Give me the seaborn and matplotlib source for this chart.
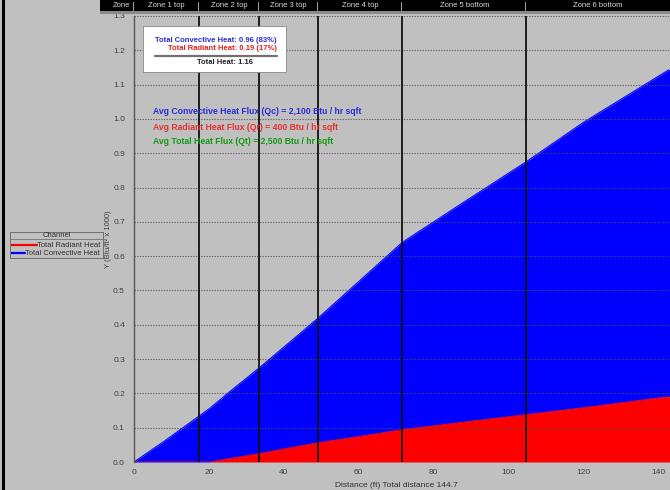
import matplotlib
matplotlib.use("Agg")
import matplotlib.pyplot as plt
from matplotlib.patches import Rectangle
from matplotlib.lines import Line2D
import numpy as np
import pandas as pd
import seaborn as sns

# Cumulative heat along the run (Btu/ft^2 x 1000)
distance_ft = [0, 8, 17.4, 20.3, 25, 33.4, 41, 49.2, 60, 71.6, 88, 104.7, 120, 144.7]
radiant_heat = [0, 0, 0, 0, 0.009, 0.024, 0.040, 0.056, 0.074, 0.094, 0.116, 0.138, 0.158, 0.193]
convective_heat = [0, 0.060, 0.134, 0.157, 0.191, 0.250, 0.304, 0.364, 0.452, 0.546, 0.641, 0.737, 0.832, 0.963]

# Zone boundaries (ft) and names
zone_edges = [17.4, 33.4, 49.2, 71.6, 104.7]
zone_names = ["Zone 1 top", "Zone 2 top", "Zone 3 top", "Zone 4 top", "Zone 5 bottom", "Zone 6 bottom"]

total_distance = 144.7
avg_flux = {"Qc": 2100, "Qr": 400, "Qt": 2500}

x_ticks = [0, 20, 40, 60, 80, 100, 120, 140]
y_ticks = [round(0.1 * i, 1) for i in range(14)]

BG = "#C0C0C0"
BLUE = "#0000FF"
RED = "#FF0000"
GREEN = "#129A12"
FONT = "Liberation Sans"

sns.set_theme(style="white")
plt.rcParams["font.family"] = [FONT, "DejaVu Sans"]

df = pd.DataFrame({
    "distance": distance_ft,
    "radiant": radiant_heat,
    "convective": convective_heat,
})
df["total"] = df["radiant"] + df["convective"]

W, H = 670, 490
fig = plt.figure(figsize=(W / 100, H / 100), dpi=100, facecolor=BG)

x0_px, x1_px, ytop_px, ybot_px = 134, 669, 16, 462
px_per_ft = 3.746
ax = fig.add_axes([x0_px / W, (H - ybot_px) / H, (x1_px - x0_px) / W, (ybot_px - ytop_px) / H])
ax.set_facecolor(BG)

# Stacked areas: radiant at the bottom, convective on top of it
ax.fill_between(df["distance"], 0, df["radiant"], color=RED, lw=0, zorder=1)
ax.fill_between(df["distance"], df["radiant"], df["total"], color=BLUE, lw=0, zorder=1)
sns.lineplot(data=df, x="distance", y="total", ax=ax, color=BLUE, lw=0.8, zorder=2, legend=False)
sns.lineplot(data=df, x="distance", y="radiant", ax=ax, color=RED, lw=0.8, zorder=2, legend=False)

ax.set_xlim(0, (x1_px - x0_px) / px_per_ft)
ax.set_ylim(0, 1.3)
ax.set_xticks(x_ticks)
ax.set_yticks(y_ticks)
ax.set_xticklabels([str(v) for v in x_ticks])
ax.set_yticklabels([f"{v:.1f}" for v in y_ticks])

# Dotted horizontal grid
for v in y_ticks[1:]:
    ax.axhline(v, color="#505050", lw=0.8, ls=(0, (1.2, 1.2)), alpha=0.8, zorder=3)

# Zone boundary lines
for xe in zone_edges:
    ax.axvline(xe, color="#111111", lw=1.3, zorder=4)

for s in ["top", "right"]:
    ax.spines[s].set_visible(False)
ax.spines["left"].set_color("#555555")
ax.spines["left"].set_linewidth(1.0)
ax.spines["bottom"].set_visible(False)
ax.spines["left"].set_zorder(5)

ax.tick_params(axis="both", direction="out", colors="#505050", labelcolor="#404040",
               labelsize=6, length=5, width=0.8, pad=1.5)
ax.tick_params(axis="x", length=3.5)
ax.set_xlabel(f"Distance (ft) Total distance {total_distance}", fontsize=6, color="#303030", labelpad=2)
ax.set_ylabel("Y (Btu/ft² x 1000)", fontsize=5.5, color="#404040", labelpad=1)
ax.xaxis.set_label_coords(0.49, -0.045)

# Summary box
conv_end = df["convective"].iloc[-1]
rad_end = df["radiant"].iloc[-1]
tot_end = conv_end + rad_end
def fx(px):
    return px / W
def fy(py):
    return 1 - py / H

fig.patches.append(Rectangle((fx(143), fy(72)), fx(286) - fx(143), fy(26) - fy(72),
                             transform=fig.transFigure, facecolor="white", edgecolor="#888888",
                             lw=0.6, zorder=6))
fig.text(fx(277), fy(40), f"Total Convective Heat: {conv_end:.2f} ({conv_end / tot_end:.0%})",
         ha="right", va="center", color="#2B2BD0", fontsize=5.5, fontweight="bold", zorder=7)
fig.text(fx(277), fy(49), f"Total Radiant Heat: {rad_end:.2f} ({rad_end / tot_end:.0%})",
         ha="right", va="center", color="#E02020", fontsize=5.5, fontweight="bold", zorder=7)
fig.lines.append(Line2D([fx(155), fx(277)], [fy(56), fy(56)], transform=fig.transFigure,
                        color="#707070", lw=1.6, zorder=7))
fig.text(fx(225), fy(63), f"Total Heat: {tot_end:.2f}", ha="center", va="center",
         color="#202020", fontsize=5.5, fontweight="bold", zorder=7)

# Average flux notes
fig.text(fx(153), fy(111), f"Avg Convective Heat Flux (Qc) = {avg_flux['Qc']:,} Btu / hr sqft",
         ha="left", va="center", color="#2B2BD8", fontsize=6.2, fontweight="bold", zorder=7)
fig.text(fx(153), fy(127), f"Avg Radiant Heat Flux (Qr) = {avg_flux['Qr']:,} Btu / hr sqft",
         ha="left", va="center", color="#E83030", fontsize=6.2, fontweight="bold", zorder=7)
fig.text(fx(153), fy(141), f"Avg Total Heat Flux (Qt) = {avg_flux['Qt']:,} Btu / hr sqft",
         ha="left", va="center", color=GREEN, fontsize=6.2, fontweight="bold", zorder=7)

# Header strip with zone names
fig.patches.append(Rectangle((fx(100), fy(11)), 1 - fx(100), fy(0) - fy(11),
                             transform=fig.transFigure, facecolor="black", lw=0, zorder=8))
fig.patches.append(Rectangle((fx(100), fy(14)), 1 - fx(100), fy(11.5) - fy(14),
                             transform=fig.transFigure, facecolor="#8A8A8A", lw=0, zorder=8))
fig.text(fx(121), fy(5.5), "Zone", ha="center", va="center", color="#D8D8D8", fontsize=5.5, zorder=9)
bounds_px = [x0_px] + [x0_px + e * px_per_ft for e in zone_edges] + [W]
for i, name in enumerate(zone_names):
    cx = (bounds_px[i] + bounds_px[i + 1]) / 2
    fig.text(fx(cx), fy(5.5), name, ha="center", va="center", color="#D8D8D8", fontsize=5.5, zorder=9)
for bx in bounds_px[:-1]:
    fig.lines.append(Line2D([fx(bx - 1), fx(bx - 1)], [fy(2), fy(10)], transform=fig.transFigure,
                            color="#9A9A9A", lw=0.8, zorder=9))

# Channel legend, clipped to its frame
lax = fig.add_axes([fx(10), fy(258), fx(103) - fx(10), fy(232) - fy(258)])
lax.set_xlim(0, 93)
lax.set_ylim(26, 0)
lax.set_facecolor(BG)
for s in lax.spines.values():
    s.set_color("#707070")
    s.set_linewidth(0.7)
lax.set_xticks([])
lax.set_yticks([])
lax.axhline(7, color="#707070", lw=0.6)
lax.text(46.5, 3.5, "Channel", ha="center", va="center", fontsize=5.5, color="#303030", clip_on=True)
lax.plot([0, 27], [13, 13], color=RED, lw=1.6, clip_on=True)
lax.text(27, 13, "Total Radiant Heat", ha="left", va="center", fontsize=5.5, color="#303030", clip_on=True)
lax.plot([0, 15], [21, 21], color=BLUE, lw=1.6, clip_on=True)
lax.text(15, 21, "Total Convective Heat", ha="left", va="center", fontsize=5.5, color="#303030", clip_on=True)

# Outer frame on the left edge
fig.lines.append(Line2D([fx(2.5), fx(2.5)], [0, 1], transform=fig.transFigure,
                        color="black", lw=2.2, zorder=10))

fig.savefig("out.png", dpi=100, facecolor=BG)
